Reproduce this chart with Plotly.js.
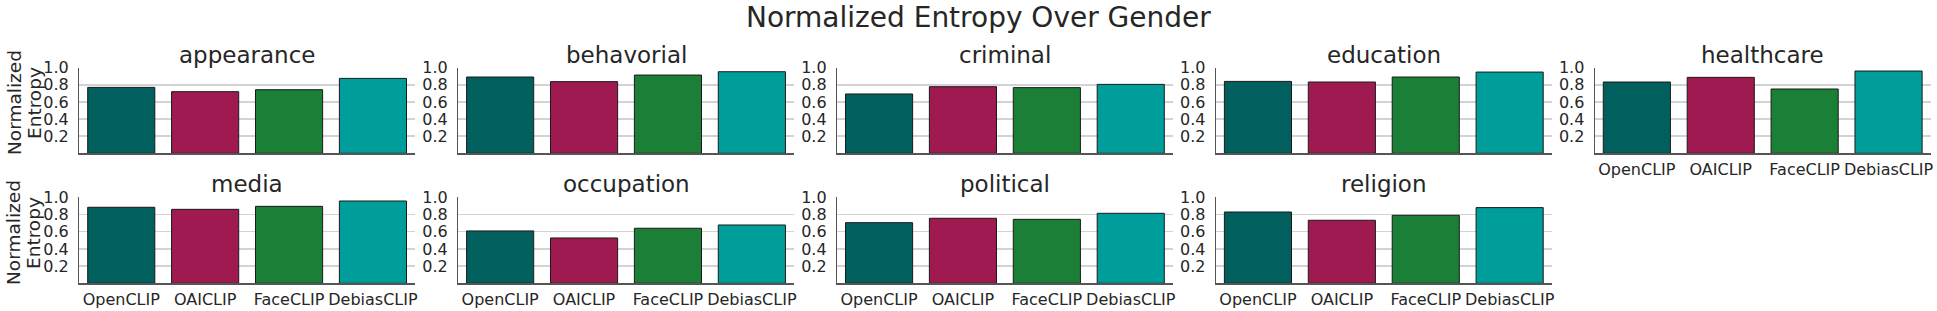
<!DOCTYPE html>
<html>
<head>
<meta charset="utf-8">
<script src="https://cdn.plot.ly/plotly-3.0.1.min.js"></script>
<style>html,body{margin:0;padding:0;background:#fff;}#chart{width:1937px;height:311px;}</style>
</head>
<body>
<div id="chart"></div>
<script>
// ---- data ----
const models = ["OpenCLIP", "OAICLIP", "FaceCLIP", "DebiasCLIP"];
const categories = ["appearance", "behavorial", "criminal", "education", "healthcare",
                    "media", "occupation", "political", "religion"];
const appearance = [0.770, 0.720, 0.743, 0.875];
const behavorial = [0.891, 0.837, 0.914, 0.953];
const criminal   = [0.693, 0.778, 0.767, 0.805];
const education  = [0.840, 0.833, 0.891, 0.949];
const healthcare = [0.833, 0.887, 0.751, 0.961];
const media      = [0.884, 0.860, 0.895, 0.957];
const occupation = [0.609, 0.527, 0.640, 0.678];
const political  = [0.705, 0.756, 0.744, 0.814];
const religion   = [0.829, 0.733, 0.791, 0.880];
const yTickVals = [0.2, 0.4, 0.6, 0.8, 1.0];
const yTickText = ["0.2", "0.4", "0.6", "0.8", "1.0"];
const modelColors = ["#015f5d", "#9e1a51", "#1c7f37", "#009e9a"];

const valuesByCat = [appearance, behavorial, criminal, education, healthcare,
                     media, occupation, political, religion];

// ---- layout geometry (pixels) ----
const W = 1937, H = 311;
const FONT = "DejaVu Sans, Verdana, sans-serif";
const TXT = "#262626";
const panelLeft0 = 79.3, panelStep = 378.9, panelW = 335.6;
const rows = [{top: 67.7, bottom: 153.3}, {top: 197.3, bottom: 283.3}];

const traces = [];
const layout = {
  width: W, height: H,
  margin: {l: 0, r: 0, t: 0, b: 0, pad: 0},
  paper_bgcolor: "#ffffff", plot_bgcolor: "#ffffff",
  showlegend: false,
  bargap: 0.2,
  font: {family: FONT, color: TXT, size: 16},
  annotations: []
};

categories.forEach((cat, i) => {
  const r = i < 5 ? 0 : 1;
  const c = i < 5 ? i : i - 5;
  const n = i + 1;
  const xa = n === 1 ? "xaxis" : "xaxis" + n;
  const ya = n === 1 ? "yaxis" : "yaxis" + n;
  const left = panelLeft0 + c * panelStep, right = left + panelW;
  const row = rows[r];
  const showX = (r === 1) || (c === 4);
  traces.push({
    type: "bar",
    x: models,
    y: valuesByCat[i],
    xaxis: n === 1 ? "x" : "x" + n,
    yaxis: n === 1 ? "y" : "y" + n,
    marker: {color: modelColors, line: {color: "#1a1a1a", width: 1}},
    hoverinfo: "x+y"
  });
  layout[xa] = {
    domain: [left / W, right / W],
    anchor: n === 1 ? "y" : "y" + n,
    type: "category",
    range: [-0.5, 3.5],
    showline: true, linecolor: "#555555", linewidth: 1.3,
    showgrid: false, zeroline: false, ticks: "",
    showticklabels: showX,
    tickfont: {family: FONT, size: 16, color: TXT},
    ticklabelstandoff: 1
  };
  layout[ya] = {
    domain: [1 - row.bottom / H, 1 - row.top / H],
    anchor: n === 1 ? "x" : "x" + n,
    range: [0, 1.0],
    showline: true, linecolor: "#555555", linewidth: 1.3,
    showgrid: true, gridcolor: "#d3d3d3", gridwidth: 1.5,
    zeroline: false, ticks: "",
    tickvals: yTickVals, ticktext: yTickText,
    tickfont: {family: FONT, size: 16, color: TXT},
    ticklabelstandoff: 6
  };
  // subplot title
  layout.annotations.push({
    text: cat, xref: "paper", yref: "paper",
    x: (left + right) / 2 / W, y: 1 - (row.top - 13) / H,
    xanchor: "center", yanchor: "middle", showarrow: false,
    font: {family: FONT, size: 23, color: TXT}
  });
});

// y axis titles (first column of each row)
const yTitleCenters = [103, 233];
yTitleCenters.forEach(cy => {
  layout.annotations.push({
    text: "Normalized", xref: "paper", yref: "paper",
    x: 14 / W, y: 1 - cy / H, xanchor: "center", yanchor: "middle",
    textangle: -90, showarrow: false,
    font: {family: FONT, size: 18.5, color: TXT}
  });
  layout.annotations.push({
    text: "Entropy", xref: "paper", yref: "paper",
    x: 34 / W, y: 1 - cy / H, xanchor: "center", yanchor: "middle",
    textangle: -90, showarrow: false,
    font: {family: FONT, size: 18.5, color: TXT}
  });
});

// main title
layout.annotations.push({
  text: "Normalized Entropy Over Gender", xref: "paper", yref: "paper",
  x: 978 / W, y: 1 - 18 / H, xanchor: "center", yanchor: "middle",
  showarrow: false, font: {family: FONT, size: 28, color: TXT}
});

Plotly.newPlot("chart", traces, layout, {displayModeBar: false, staticPlot: true});
</script>
</body>
</html>
